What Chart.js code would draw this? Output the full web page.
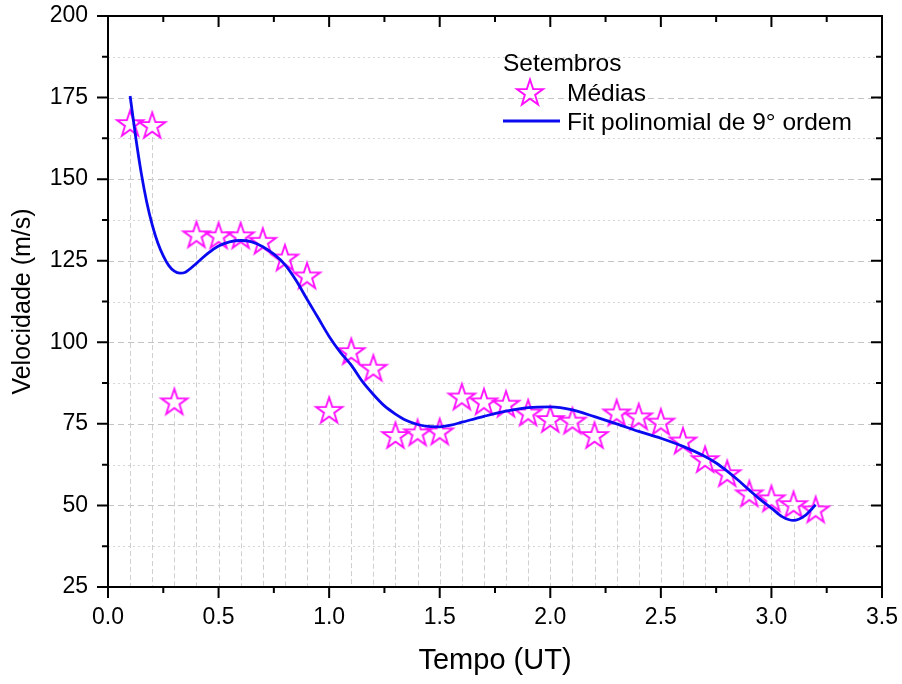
<!DOCTYPE html>
<html><head><meta charset="utf-8">
<script src="https://cdn.jsdelivr.net/npm/chart.js@4"></script>
<style>html,body{margin:0;padding:0;background:#fff}#wrap{width:902px;height:684px}</style>
</head><body><div id="wrap"><canvas id="c" width="902" height="684"></canvas></div>
<script>
// ---- data ----
const tempos = [0.1,0.2,0.3,0.4,0.5,0.6,0.7,0.8,0.9,1.0,1.1,1.2,1.3,1.4,1.5,1.6,1.7,1.8,1.9,2.0,2.1,2.2,2.3,2.4,2.5,2.6,2.7,2.8,2.9,3.0,3.1,3.2];
const medias = [167.2,166.6,81.9,133.1,132.8,132.8,131.1,126.0,120.5,79.3,97.3,92.2,71.6,72.4,72.7,83.4,81.9,81.2,78.5,76.5,76.0,71.6,78.5,77.3,75.7,69.9,64.2,59.9,53.7,52.2,50.4,48.8];
const fitTempos = [0.10,0.125,0.15,0.175,0.20,0.225,0.25,0.275,0.30,0.325,0.35,0.40,0.45,0.50,0.55,0.60,0.65,0.70,0.75,0.80,0.85,0.90,0.95,1.00,1.05,1.10,1.15,1.20,1.25,1.30,1.35,1.40,1.45,1.50,1.55,1.60,1.70,1.80,1.90,2.00,2.10,2.20,2.30,2.40,2.50,2.60,2.70,2.75,2.80,2.85,2.90,2.95,3.00,3.05,3.10,3.15,3.20];
const fitVelocidades = [175.5,163.0,152.0,143.0,136.0,130.5,126.5,123.5,121.8,121.2,121.5,124.2,127.2,129.5,130.8,131.2,130.8,129.3,127.0,123.8,119.0,113.2,107.5,101.8,97.0,93.0,88.0,84.0,80.5,78.0,76.0,74.8,74.2,74.1,74.6,75.5,77.3,78.9,80.0,80.2,79.3,77.2,75.0,72.7,70.6,68.1,65.0,63.0,60.5,57.7,54.7,51.8,49.2,46.5,45.4,46.8,50.2];
const xTickValues = [0,0.5,1.0,1.5,2.0,2.5,3.0,3.5];
const xMinorValues = [0.25,0.75,1.25,1.75,2.25,2.75,3.25];
const yTickValues = [25,50,75,100,125,150,175,200];
const yMinorValues = [37.5,62.5,87.5,112.5,137.5,162.5,187.5];
const legendTitle = 'Setembros';
const seriesNames = ['Médias','Fit polinomial de 9° ordem'];
const xTitle = 'Tempo (UT)';
const yTitle = 'Velocidade (m/s)';

const FAM = '"Liberation Sans", Arial, Helvetica, sans-serif';
const MAG = '#ff10ff';
const BLUE = '#0a0af0';

function makeStar(R, color, lw){
  const s = Math.ceil(R*2 + lw*2 + 4);
  const c = document.createElement('canvas'); c.width = s; c.height = s;
  const g = c.getContext('2d');
  const cx = s/2, cy = s/2 + 0.0955*R;
  g.beginPath();
  for (let i=0;i<10;i++){
    const r = (i%2) ? R*0.39 : R;
    const a = -Math.PI/2 + i*Math.PI/5;
    g.lineTo(cx + r*Math.cos(a), cy + r*Math.sin(a));
  }
  g.closePath(); g.strokeStyle = color; g.lineWidth = lw; g.lineJoin = 'miter'; g.stroke();
  return c;
}
const star = makeStar(13.8, MAG, 1.9);

const decor = {
  id: 'decor',
  beforeDatasetsDraw(chart){
    const {ctx, chartArea:a, scales:{x, y}} = chart;
    ctx.save();
    ctx.lineWidth = 1;
    yTickValues.concat(yMinorValues).forEach(v => {
      if (v <= 25 || v >= 200) return;
      const py = Math.round(y.getPixelForValue(v)) + 0.5;
      const major = yTickValues.includes(v);
      ctx.strokeStyle = major ? '#c4c4c4' : '#d6d6d6';
      ctx.setLineDash(major ? [6,4] : [2,3]);
      ctx.beginPath(); ctx.moveTo(a.left, py); ctx.lineTo(a.right, py); ctx.stroke();
    });
    ctx.strokeStyle = '#cfcfcf';
    ctx.setLineDash([5,3]);
    tempos.forEach((t,i) => {
      const px = Math.round(x.getPixelForValue(t)) + 0.5;
      const py = y.getPixelForValue(medias[i]) + 12;
      ctx.beginPath(); ctx.moveTo(px, py); ctx.lineTo(px, a.bottom); ctx.stroke();
    });
    ctx.restore();
  },
  afterDatasetsDraw(chart){
    const {ctx, chartArea:a, scales:{x, y}} = chart;
    ctx.save();
    ctx.setLineDash([]);
    ctx.strokeStyle = '#000';
    ctx.lineWidth = 2;
    ctx.strokeRect(a.left, a.top, a.right - a.left, a.bottom - a.top);
    const MJ = 11, MN = 6;
    ctx.beginPath();
    xTickValues.concat(xMinorValues).forEach(v => {
      const L = xTickValues.includes(v) ? MJ : MN;
      const px = x.getPixelForValue(v);
      ctx.moveTo(px, a.bottom); ctx.lineTo(px, a.bottom + L);
      ctx.moveTo(px, a.top); ctx.lineTo(px, a.top + L);
    });
    yTickValues.concat(yMinorValues).forEach(v => {
      const L = yTickValues.includes(v) ? MJ : MN;
      const py = y.getPixelForValue(v);
      ctx.moveTo(a.left, py); ctx.lineTo(a.left - L, py);
      ctx.moveTo(a.right, py); ctx.lineTo(a.right - L, py);
    });
    ctx.stroke();
    ctx.fillStyle = '#000';
    ctx.font = '24.5px ' + FAM;
    ctx.textBaseline = 'alphabetic';
    ctx.textAlign = 'left';
    ctx.fillText(legendTitle, 503, 71);
    ctx.drawImage(star, 530 - star.width/2, 92 - star.height/2);
    ctx.fillText(seriesNames[0], 567, 101);
    ctx.strokeStyle = BLUE; ctx.lineWidth = 2.8;
    ctx.beginPath(); ctx.moveTo(503, 121); ctx.lineTo(560, 121); ctx.stroke();
    ctx.fillText(seriesNames[1], 567, 130);
    ctx.restore();
  }
};

new Chart(document.getElementById('c'), {
  type: 'scatter',
  data: {
    datasets: [
      {
        label: seriesNames[1],
        data: fitTempos.map((t,i) => ({x:t, y:fitVelocidades[i]})),
        showLine: true, borderColor: BLUE, borderWidth: 2.8, pointRadius: 0,
        cubicInterpolationMode: 'monotone', fill: false
      },
      {
        label: seriesNames[0],
        data: tempos.map((t,i) => ({x:t, y:medias[i]})),
        showLine: false, pointStyle: star, pointRadius: 13, pointBorderColor: MAG, pointBackgroundColor: 'transparent'
      }
    ]
  },
  options: {
    responsive: false, animation: false,
    layout: { padding: { top: 16, right: 20, left: 0, bottom: 0 } },
    plugins: { legend: { display: false }, tooltip: { enabled: false } },
    scales: {
      x: {
        type: 'linear', min: 0, max: 3.5, position: 'bottom',
        afterFit(s){ s.height = 97; s.paddingLeft = 0; s.paddingRight = 0; },
        afterBuildTicks(s){ s.ticks = xTickValues.map(v => ({value: v})); },
        ticks: { padding: 17, color: '#000', font: { size: 23, family: FAM }, maxRotation: 0, autoSkip: false,
                 callback: v => Number(v).toFixed(1) },
        grid: { display: false, drawTicks: false }, border: { display: false },
        title: { display: true, text: xTitle, color: '#000', font: { size: 29, family: FAM }, padding: { top: 0, bottom: 6 } }
      },
      y: {
        type: 'linear', min: 25, max: 200,
        afterFit(s){ s.width = 108; s.paddingTop = 0; s.paddingBottom = 0; },
        afterBuildTicks(s){ s.ticks = yTickValues.map(v => ({value: v})); },
        ticks: { padding: 20, color: '#000', font: { size: 23, family: FAM }, autoSkip: false },
        grid: { display: false, drawTicks: false }, border: { display: false },
        title: { display: true, text: yTitle, color: '#000', font: { size: 25, family: FAM }, padding: { top: 8, bottom: 0 } }
      }
    }
  },
  plugins: [decor]
});
</script></body></html>
